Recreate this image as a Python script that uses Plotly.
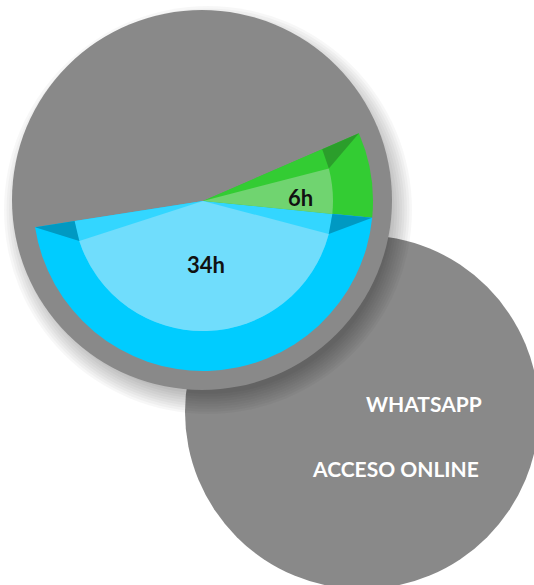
import numpy as np
import plotly.graph_objects as go

# ---------------- data ----------------
categories = ["WHATSAPP", "ACCESO ONLINE"]
hours = [6, 34]                 # green slice, blue slice
hour_labels = ["6h", "34h"]
hidden_rest = 34                # undrawn remainder of the dial

# ---------------- styling ----------------
W, H = 534, 585
GREY = "#898989"
OUTER = ["#33CC33", "#00CCFF"]
MID = ["#33CC33", "#33D6FF"]
LIGHT = ["#70D470", "#70DDFC"]
DARK = ["#2B9E2B", "#0099C2"]
bevel_start = [True, True]
bevel_end = [False, True]
BEVEL_DEG = 9.0
ROTATION = 66.5

CX, CY = 203.0, 201.0          # pie centre (px)
R_OUT, R_IN = 170.0, 130.0


def px(x):
    return x / W


def py(y):
    return 1 - y / H


def circle(cx, cy, r, color, opacity=1.0):
    return dict(type="circle", xref="paper", yref="paper", layer="below",
                x0=px(cx - r), x1=px(cx + r), y0=py(cy + r), y1=py(cy - r),
                fillcolor=color, opacity=opacity, line=dict(width=0))


def domain(r):
    return dict(x=[px(CX - r), px(CX + r)], y=[py(CY + r), py(CY - r)])


total = sum(hours) + hidden_rest
deg_per_unit = 360.0 / total
bevel_units = BEVEL_DEG / deg_per_unit

fig = go.Figure()

common = dict(sort=False, direction="clockwise", rotation=ROTATION,
              textinfo="none", hoverinfo="skip", showlegend=False)

# outer ring colours
fig.add_trace(go.Pie(values=hours + [hidden_rest], domain=domain(R_OUT),
                     marker=dict(colors=OUTER + ["rgba(0,0,0,0)"], line=dict(width=0)),
                     **common))
# inner disc, bevel (mid) colours
fig.add_trace(go.Pie(values=hours + [hidden_rest], domain=domain(R_IN),
                     marker=dict(colors=MID + ["rgba(0,0,0,0)"], line=dict(width=0)),
                     **common))
# inner disc, light faces narrowed by the bevels
vals, cols = [], []
for i, h in enumerate(hours):
    bs = bevel_units if bevel_start[i] else 0.0
    be = bevel_units if bevel_end[i] else 0.0
    vals += [bs, h - bs - be, be]
    cols += ["rgba(0,0,0,0)", LIGHT[i], "rgba(0,0,0,0)"]
vals.append(hidden_rest)
cols.append("rgba(0,0,0,0)")
fig.add_trace(go.Pie(values=vals, domain=domain(R_IN),
                     marker=dict(colors=cols, line=dict(width=0)), **common))

# ---------------- background discs & shadow ----------------
shapes = [circle(362, 412, 177, GREY)]
for r in np.arange(184, 206, 2.5):
    shapes.append(circle(208, 210, r, "black", 0.03))
shapes.append(circle(202, 200, 190, GREY))


# dark bevel triangles (computed from slice angles)
def pt(a_deg, r):
    a = np.radians(a_deg)
    return px(CX + r * np.sin(a)), py(CY - r * np.cos(a))


start = ROTATION
for i, h in enumerate(hours):
    a0 = start
    a1 = start + h * deg_per_unit
    tris = []
    if bevel_start[i]:
        tris.append((a0, a0 + BEVEL_DEG))
    if bevel_end[i]:
        tris.append((a1, a1 - BEVEL_DEG))
    for edge, narrow in tris:
        p1 = pt(edge, R_OUT)
        p2 = pt(edge, R_IN)
        p3 = pt(narrow, R_IN)
        path = "M {:.5f} {:.5f} L {:.5f} {:.5f} L {:.5f} {:.5f} Z".format(*p1, *p2, *p3)
        shapes.append(dict(type="path", xref="paper", yref="paper", layer="above",
                           path=path, fillcolor=DARK[i], line=dict(width=0)))
    start = a1

annotations = [
    dict(text=hour_labels[0], x=px(300), y=py(197), showarrow=False,
         xref="paper", yref="paper", xanchor="center", yanchor="middle",
         font=dict(family="Lato", size=22, color="#111111", weight="bold")),
    dict(text=hour_labels[1], x=px(206), y=py(265), showarrow=False,
         xref="paper", yref="paper", xanchor="center", yanchor="middle",
         font=dict(family="Lato", size=22, color="#111111", weight="bold")),
    dict(text=categories[0], x=px(484), y=py(403), showarrow=False,
         xref="paper", yref="paper", xanchor="right", yanchor="middle",
         font=dict(family="Lato", size=21, color="white", weight="bold")),
    dict(text=categories[1], x=px(481), y=py(468), showarrow=False,
         xref="paper", yref="paper", xanchor="right", yanchor="middle",
         font=dict(family="Lato", size=21, color="white", weight="bold")),
]

fig.update_layout(width=W, height=H, margin=dict(l=0, r=0, t=0, b=0),
                  paper_bgcolor="white", plot_bgcolor="white",
                  shapes=shapes, annotations=annotations, showlegend=False)

fig.write_html("out.html", config={"displayModeBar": False},
               post_script="document.body.style.margin='0';")
